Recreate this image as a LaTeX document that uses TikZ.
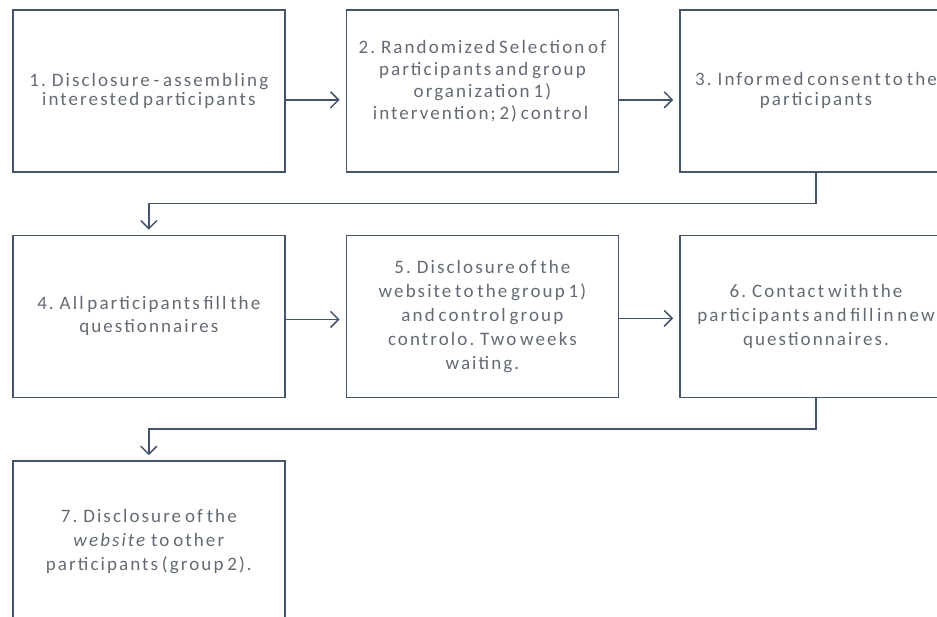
\documentclass[tikz,border=0pt]{standalone}
\usepackage{fontspec}
\setmainfont{Carlito}[LetterSpace=11, WordSpace=0.6]
\usetikzlibrary{arrows.meta,positioning,calc}
\definecolor{slateline}{RGB}{68,84,106}
\definecolor{slatetext}{RGB}{98,106,116}
\tikzset{
    stepbox/.style={
        rectangle,
        draw=slateline,
        line width=1.6pt,
        minimum width=272pt,
        minimum height=162pt,
        inner sep=0pt,
        text=slatetext,
        font=\fontsize{19}{24}\selectfont
    },
    flow/.style={
        draw=slateline,
        line width=1.6pt,
        -{Straight Barb[length=8pt,width=16pt,line width=1.5pt]}
    }
}

\begin{document}
\begin{tikzpicture}[node distance=60pt]
\useasboundingbox (0,0) rectangle (937pt,-617pt);
\clip (0,0) rectangle (937pt,-617pt);

% first row
\node[stepbox, anchor=north west] (disclosure) at (12pt,-9pt) {
    \begin{minipage}{266pt}\centering\fontsize{19}{19}\selectfont
    1. Disclosure - assembling\\
    interested participants
    \end{minipage}
};
\node[stepbox, right=of disclosure] (selection) {
    \begin{minipage}{266pt}\centering\fontsize{19}{22}\selectfont
    2. Randomized Selection of\\
    participants and group\\
    organization 1)\\
    intervention; 2) control
    \vspace{20pt}
    \end{minipage}
};
\node[stepbox, right=of selection] (consent) {
    \begin{minipage}{266pt}\centering\fontsize{19}{20}\selectfont
    3. Informed consent to the\\
    participants
    \end{minipage}
};

% second row
\node[stepbox, below=62pt of disclosure] (fill) {
    \begin{minipage}{266pt}\centering\fontsize{19}{23}\selectfont
    4. All participants fill the\\
    questionnaires
    \end{minipage}
};
\node[stepbox, right=of fill] (website) {
    \begin{minipage}{266pt}\centering
    5. Disclosure of the\\
    website to the  group 1)\\
    and control group\\
    controlo. Two weeks\\
    waiting.
    \end{minipage}
};
\node[stepbox, right=of website] (contact) {
    \begin{minipage}{266pt}\centering
    6. Contact with the\\
    participants and fill in new\\
    questionnaires.
    \end{minipage}
};

% third row
\node[stepbox, below=62pt of fill] (others) {
    \begin{minipage}{266pt}\centering
    7. Disclosure of the\\
    \textit{website} to other\\
    participants (group 2).
    \end{minipage}
};

% connectors
\draw[flow] ([yshift=-9pt]disclosure.east) -- ([xshift=-6pt,yshift=-9pt]selection.west);
\draw[flow] ([yshift=-9pt]selection.east) -- ([xshift=-6pt,yshift=-9pt]consent.west);
\draw[flow] (consent.south) -- ++(0,-31pt) -| ([yshift=5pt]fill.north);
\draw[flow] ([yshift=-3pt]fill.east) -- ([xshift=-6pt,yshift=-3pt]website.west);
\draw[flow] ([yshift=-2pt]website.east) -- ([xshift=-6pt,yshift=-2pt]contact.west);
\draw[flow] (contact.south) -- ++(0,-31pt) -| ([yshift=5pt]others.north);
\end{tikzpicture}
\end{document}
